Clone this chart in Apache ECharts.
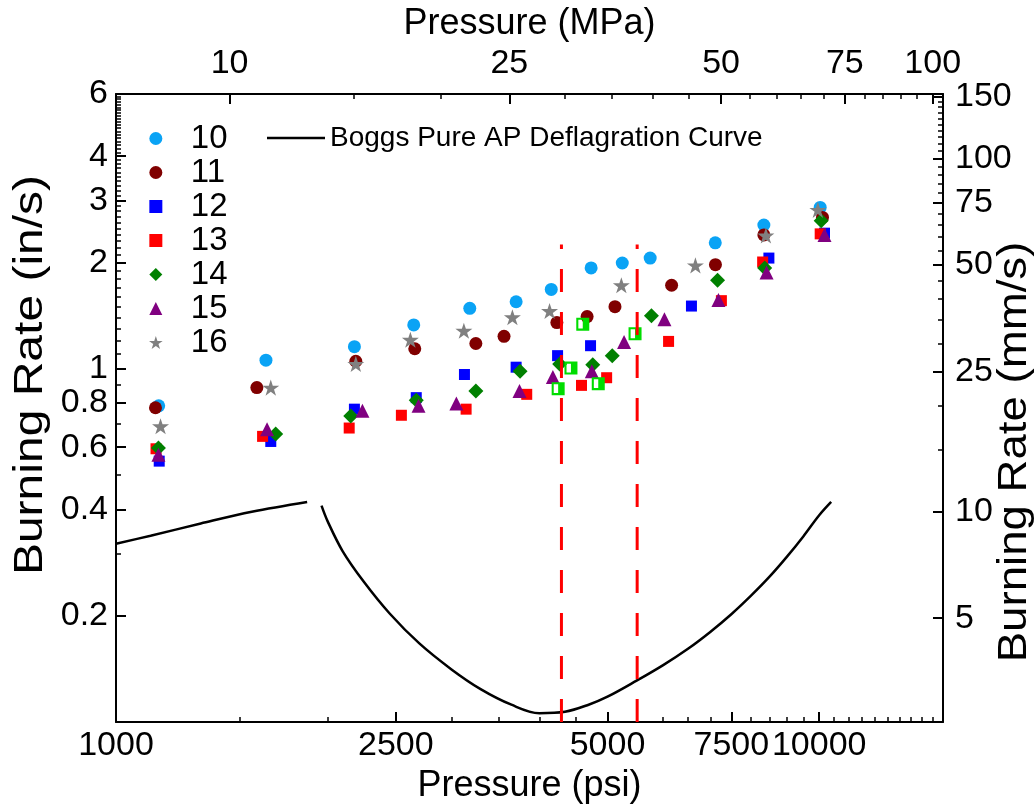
<!DOCTYPE html>
<html><head><meta charset="utf-8">
<script src="https://cdn.jsdelivr.net/npm/echarts@6/dist/echarts.min.js"></script>
<style>html,body{margin:0;padding:0;background:#fff}#c{width:1036px;height:809px}</style>
</head><body><div id="c"></div>
<script>
// ---------- axis definitions ----------
const PSI_PER_MPA = 145.038;
const MMS_PER_INS = 25.4;
const psiRange = [1000, 15000];
const rateRange = [0.1, 6];
const psiTicks = [1000, 2500, 5000, 7500, 10000];
const mpaTicks = [10, 25, 50, 75, 100];
const insTicks = [0.2, 0.4, 0.6, 0.8, 1, 2, 3, 4, 6];
const mmsTicks = [5, 10, 25, 50, 75, 100, 150];

// ---------- data (pressure psi, burning rate in/s) ----------
const s10_psi  = [1150, 1634, 2183, 2651, 3185, 3707, 4159, 4739, 5248, 5750, 7116, 8343, 10033];
const s10_rate = [0.786, 1.058, 1.156, 1.332, 1.484, 1.549, 1.678, 1.931, 1.994, 2.059, 2.274, 2.554, 2.864];
const s11_psi  = [1138, 1586, 2193, 2660, 3249, 3563, 4236, 4677, 5124, 6168, 7120, 8343, 10109];
const s11_rate = [0.776, 0.885, 1.051, 1.140, 1.180, 1.236, 1.352, 1.406, 1.500, 1.725, 1.972, 2.394, 2.684];
const s12_psi  = [1152, 1660, 2183, 2673, 3130, 3707, 4246, 4730, 6582, 8482, 10176];
const s12_rate = [0.548, 0.623, 0.769, 0.829, 0.964, 1.011, 1.090, 1.163, 1.506, 2.059, 2.422];
const s13_psi  = [1140, 1616, 2146, 2546, 3147, 3838, 4592, 4986, 6107, 7260, 8310, 10033];
const s13_rate = [0.594, 0.644, 0.680, 0.739, 0.769, 0.847, 0.898, 0.944, 1.196, 1.560, 2.007, 2.411];
const s14_psi  = [1149, 1687, 2157, 2673, 3249, 3755, 4275, 4764, 5078, 5774, 7170, 8366, 10067];
const s14_rate = [0.597, 0.654, 0.736, 0.815, 0.866, 0.985, 1.033, 1.028, 1.090, 1.413, 1.782, 1.931, 2.627];
const s15_psi  = [1149, 1640, 2241, 2693, 3048, 3748, 4181, 4750, 5279, 6025, 7190, 8418, 10176];
const s15_rate = [0.571, 0.675, 0.761, 0.786, 0.798, 0.866, 0.948, 0.985, 1.191, 1.382, 1.566, 1.873, 2.394];
const s16_psi  = [1157, 1660, 2193, 2622, 3124, 3662, 4136, 5232, 6668, 8399, 9957];
const s16_rate = [0.688, 0.885, 1.033, 1.209, 1.282, 1.400, 1.458, 1.725, 1.963, 2.385, 2.820];
const half_psi  = [4254, 4436, 4611, 4851, 5472];
const half_rate = [0.879, 1.005, 1.338, 0.908, 1.257];

const boggsA_psi  = [1000, 1120, 1320, 1560, 1870];
const boggsA_rate = [0.320, 0.337, 0.365, 0.394, 0.420];
const boggsB_psi  = [1960, 2000, 2100, 2250, 2450, 2700, 3000, 3300, 3650, 4000, 4350, 4700, 5000, 5500, 6000, 6500, 7000, 7500, 8000, 8500, 9000, 9500, 10000, 10400];
const boggsB_rate = [0.410, 0.370, 0.305, 0.250, 0.203, 0.167, 0.141, 0.124, 0.112, 0.106, 0.107, 0.112, 0.118, 0.131, 0.145, 0.161, 0.180, 0.202, 0.228, 0.258, 0.294, 0.336, 0.385, 0.420];

const limit_psi = [4300, 5510];
const limit_rate = [0.1, 2.25];

// ---------- helpers ----------
const L = Math.log10;
const pts = (xs, ys) => xs.map((x, i) => [L(x), L(ys[i])]);
function steps(from, to, step, skip) {
  const out = [];
  for (let v = from; v <= to + 1e-9; v += step) {
    const r = Math.round(v * 1000) / 1000;
    if (!skip.some(s => Math.abs(s - r) < 1e-9)) out.push(r);
  }
  return out;
}
const psiMinor = steps(1500, 14500, 500, psiTicks);
const mpaMinor = steps(15, 100, 5, mpaTicks);
const insMinor = steps(0.3, 5.9, 0.1, insTicks);
const mmsMinor = steps(15, 150, 5, mmsTicks);

const toPsi = t => t, fromMpa = t => t * PSI_PER_MPA, toIns = t => t, fromMms = t => t / MMS_PER_INS;
const fmt = (list, conv) => v => { for (const t of list) if (Math.abs(L(conv(t)) - v) < 1e-7) return String(t); return ''; };

const FONT = 'Liberation Sans, Arial, Helvetica, sans-serif';
const BLACK = '#000';

function majorAxis(pos, range, list, conv, name, nameGap, labelMargin) {
  const cv = list.map(t => L(conv(t)));
  return {
    type: 'value', position: pos, min: L(range[0]), max: L(range[1]),
    splitLine: { show: false },
    axisLine: { show: true, onZero: false, lineStyle: { color: BLACK, width: 2 } },
    axisTick: { show: true, inside: true, length: 10, customValues: cv, lineStyle: { color: BLACK, width: 2 } },
    axisLabel: { show: true, customValues: cv, formatter: fmt(list, conv), color: BLACK, fontSize: 34, fontFamily: FONT, margin: labelMargin },
    name: name, nameLocation: 'middle', nameGap: nameGap,
    nameTextStyle: { color: BLACK, fontSize: 36, fontFamily: FONT }
  };
}
function minorAxis(pos, range, list, conv) {
  return {
    type: 'value', position: pos, min: L(range[0]), max: L(range[1]),
    splitLine: { show: false },
    axisLine: { show: false, onZero: false },
    axisTick: { show: true, inside: true, length: 5, customValues: list.map(t => L(conv(t))), lineStyle: { color: BLACK, width: 1.5 } },
    axisLabel: { show: false }
  };
}

const STAR = 'path://M50,0L61.2,34.5L97.6,34.5L68.2,55.9L79.4,90.5L50,69.1L20.6,90.5L31.8,55.9L2.4,34.5L38.8,34.5Z';
const HALF = 'path://M0,0L10,0L10,10L0,10Z M1.6,1.6L1.6,8.4L5,8.4L5,1.6Z';
const SQUARE_P = 'path://M0,0L10,0L10,10L0,10Z';
const DIAMOND_P = 'path://M5,0L10,5L5,10L0,5Z';
const TRI_P = 'path://M5,0L10,10L0,10Z';

function scatter(name, xs, ys, symbol, size, color) {
  return { type: 'scatter', name: name, data: pts(xs, ys), symbol: symbol, symbolSize: size, symbolKeepAspect: true,
    itemStyle: { color: color, opacity: 1 }, xAxisIndex: 0, yAxisIndex: 0, z: 3 };
}
function line(name, xs, ys, style, z) {
  return { type: 'line', name: name, data: pts(xs, ys), symbol: 'none', showSymbol: false, smooth: style.smooth || false,
    lineStyle: style.lineStyle, itemStyle: { color: style.lineStyle.color }, xAxisIndex: 0, yAxisIndex: 0, z: z, silent: true };
}
const BOGGS = 'Boggs Pure AP Deflagration Curve';
const boggsStyle = { smooth: 0.35, lineStyle: { color: BLACK, width: 2.5, type: 'solid' } };
const dashStyle = { lineStyle: { color: '#ff0000', width: 3, type: [23, 20] } };

const legendNames = ['10', '11', '12', '13', '14', '15', '16'];
const legendIcons = ['circle', 'circle', SQUARE_P, SQUARE_P, DIAMOND_P, TRI_P, STAR];

const option = {
  animation: false,
  backgroundColor: '#fff',
  textStyle: { fontFamily: FONT },
  grid: { left: 116, right: 93, top: 94, bottom: 82, containLabel: false },
  xAxis: [
    majorAxis('bottom', psiRange, psiTicks, toPsi, 'Pressure (psi)', 42, 7),
    minorAxis('bottom', psiRange, psiMinor, toPsi),
    majorAxis('top', psiRange, mpaTicks, fromMpa, 'Pressure (MPa)', 49, 13),
    minorAxis('top', psiRange, mpaMinor, fromMpa)
  ],
  yAxis: [
    Object.assign(majorAxis('left', rateRange, insTicks, toIns, '', 0, 8), { name: '' }),
    minorAxis('left', rateRange, insMinor, toIns),
    Object.assign(majorAxis('right', rateRange, mmsTicks, fromMms, '', 0, 12), { name: '' }),
    minorAxis('right', rateRange, mmsMinor, fromMms)
  ],
  graphic: [
    { type: 'text', x: 31, y: 375, rotation: Math.PI / 2, scaleX: 1.2, scaleY: 1, silent: true,
      style: { text: 'Burning Rate (in/s)', fill: BLACK, font: '40px ' + FONT, align: 'center', verticalAlign: 'middle' } },
    { type: 'text', x: 1015, y: 452, rotation: Math.PI / 2, scaleX: 1.14, scaleY: 1, silent: true,
      style: { text: 'Burning Rate (mm/s)', fill: BLACK, font: '40px ' + FONT, align: 'center', verticalAlign: 'middle' } }
  ],
  legend: [
    { data: legendNames.map((n, i) => ({ name: n, icon: legendIcons[i] })), orient: 'vertical', left: 144, top: 117,
      itemWidth: 60, itemHeight: 13, itemGap: 1, symbolKeepAspect: true,
      textStyle: { color: BLACK, fontSize: 33, lineHeight: 30, fontFamily: FONT } },
    { data: [{ name: BOGGS, icon: 'rect' }], orient: 'horizontal', left: 262, top: 119, itemWidth: 58, itemHeight: 2.5,
      itemStyle: { color: BLACK },
      textStyle: { color: BLACK, fontSize: 28, lineHeight: 28, fontFamily: FONT } }
  ],
  series: [
    line(BOGGS, boggsA_psi, boggsA_rate, boggsStyle, 2),
    line(BOGGS, boggsB_psi, boggsB_rate, boggsStyle, 2),
    scatter('10', s10_psi, s10_rate, 'circle', 13, '#0AA3F5'),
    scatter('11', s11_psi, s11_rate, 'circle', 13, '#800000'),
    scatter('12', s12_psi, s12_rate, 'rect', 11, '#0000FF'),
    scatter('13', s13_psi, s13_rate, 'rect', 11, '#FF0000'),
    scatter('14', s14_psi, s14_rate, 'diamond', 15, '#008000'),
    scatter('15', s15_psi, s15_rate, 'triangle', 14, '#800080'),
    scatter('16', s16_psi, s16_rate, STAR, 17, '#808080'),
    scatter('', half_psi, half_rate, HALF, 13, '#00DD00'),
    line('', [limit_psi[0], limit_psi[0]], limit_rate, dashStyle, 6),
    line('', [limit_psi[1], limit_psi[1]], limit_rate, dashStyle, 6)
  ]
};
const chart = echarts.init(document.getElementById('c'), null, { renderer: 'canvas' });
chart.setOption(option);
</script></body></html>
